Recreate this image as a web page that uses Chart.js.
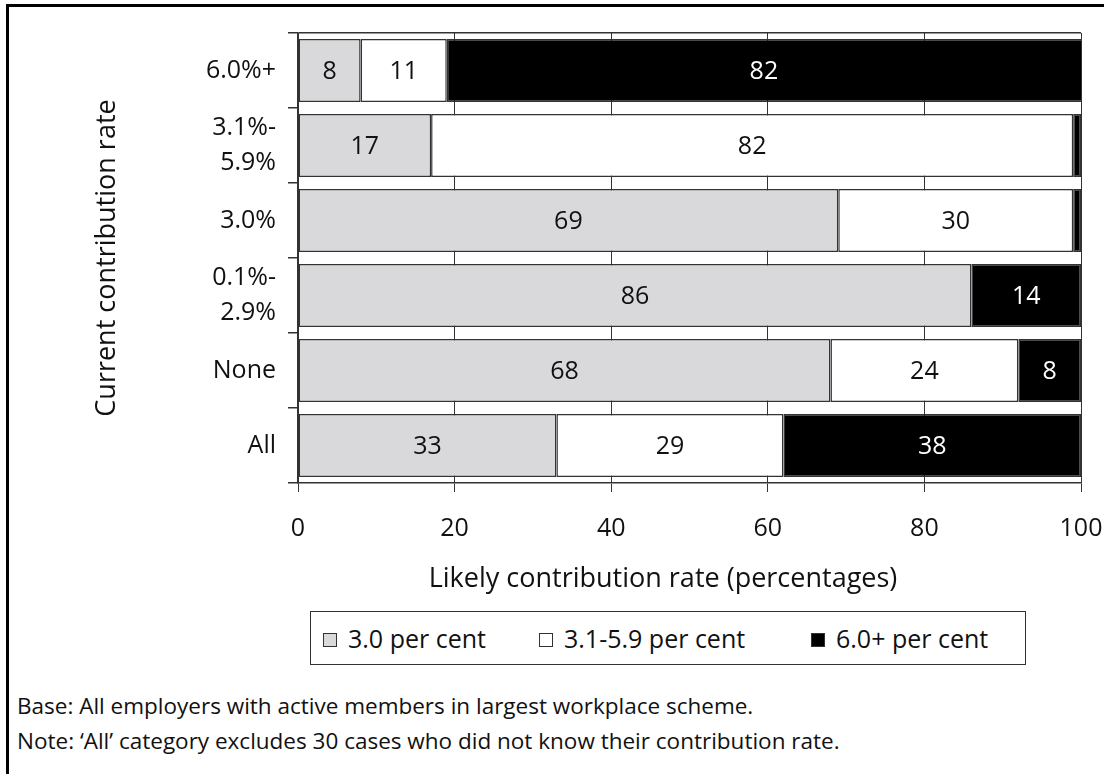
<!DOCTYPE html>
<html lang="en">
<head>
    <meta charset="UTF-8">
    <title>Likely contribution rate</title>
    <script src="https://cdn.jsdelivr.net/npm/chart.js"></script>
    <style>
        body { margin: 0; background: #fff; font-family: "Open Sans", sans-serif; color: #111; }
        #frame { position: absolute; left: 6px; top: 4px; width: 1200px; height: 900px; border-left: 3px solid #000; border-top: 3px solid #000; }
        #chartBox { position: absolute; left: 0; top: 0; width: 1104px; height: 560px; }
        #xTitle { position: absolute; left: 0; width: 1326px; top: 560px; text-align: center; font-size: 27px; line-height: 34px; }
        #legend { position: absolute; left: 310px; top: 611px; width: 714px; height: 52px; border: 1.5px solid #333; font-size: 25px; line-height: 52px; white-space: nowrap; }
        #legend .item { display: inline-block; }
        #legend .sw { display: inline-block; width: 12px; height: 12px; border: 1px solid #333; margin-right: 11px; vertical-align: 1px; }
        #notes { position: absolute; left: 17px; top: 688px; font-size: 22.5px; line-height: 35px; }
    </style>
</head>
<body>
    <div id="frame"></div>
    <div id="chartBox"><canvas id="myChart"></canvas></div>
    <div id="xTitle">Likely contribution rate (percentages)</div>
    <div id="legend"></div>
    <div id="notes">
        Base: All employers with active members in largest workplace scheme.<br>
        Note: ‘All’ category excludes 30 cases who did not know their contribution rate.
    </div>

    <script>
        // data
        const categories = ["6.0%+", ["3.1%-", "5.9%"], "3.0%", ["0.1%-", "2.9%"], "None", "All"];
        const rate30 = [8, 17, 69, 86, 68, 33];
        const rate31to59 = [11, 82, 30, 0, 24, 29];
        const rate60plus = [82, 1, 1, 14, 8, 38];
        const seriesNames = ["3.0 per cent", "3.1-5.9 per cent", "6.0+ per cent"];
        const xMin = 0, xMax = 100, xStep = 20;

        const fills = ["#d9d9db", "#ffffff", "#000000"];
        const textColors = ["#111", "#111", "#fff"];
        const lineColor = "#333";

        Chart.defaults.font.family = '"Open Sans", sans-serif';
        Chart.defaults.color = "#111";

        // value labels in the middle of each segment
        const barLabels = {
            id: "barLabels",
            afterDatasetsDraw(chart) {
                const ctx = chart.ctx;
                const area = chart.chartArea;
                ctx.save();
                ctx.font = '25px "Open Sans"';
                ctx.textAlign = "center";
                ctx.textBaseline = "middle";
                chart.data.datasets.forEach((ds, i) => {
                    chart.getDatasetMeta(i).data.forEach((bar, j) => {
                        const v = ds.data[j];
                        if (v < 5) return;
                        const right = Math.min(bar.x, area.right);
                        ctx.fillStyle = textColors[i];
                        ctx.fillText(String(v), (bar.base + right) / 2, bar.y + 1);
                    });
                });
                ctx.restore();
            }
        };

        const seriesData = [rate30, rate31to59, rate60plus];
        const datasets = seriesData.map((d, i) => ({
            label: seriesNames[i],
            data: d,
            backgroundColor: fills[i],
            borderColor: lineColor,
            borderWidth: 1.5,
            borderSkipped: false,
            categoryPercentage: 1,
            barPercentage: 0.84,
            clip: 0
        }));

        const ctx = document.getElementById("myChart").getContext("2d");
        const chart = new Chart(ctx, {
            type: "bar",
            data: { labels: categories, datasets: datasets },
            options: {
                indexAxis: "y",
                responsive: true,
                maintainAspectRatio: false,
                animation: false,
                layout: { padding: { top: 33, right: 23, left: 0, bottom: 0 } },
                plugins: {
                    legend: { display: false },
                    tooltip: { enabled: false }
                },
                scales: {
                    x: {
                        stacked: true,
                        min: xMin,
                        max: xMax,
                        ticks: { stepSize: xStep, padding: 22, font: { size: 25 }, maxRotation: 0 },
                        grid: { color: lineColor, lineWidth: 1, tickLength: 9 },
                        border: { color: lineColor, width: 1.5 },
                        afterFit(scale) {
                            scale.height = 77;
                            scale.paddingLeft = 0;
                            scale.paddingRight = 0;
                        }
                    },
                    y: {
                        stacked: true,
                        ticks: { padding: 12, font: { size: 25, lineHeight: 1.42 } },
                        grid: {
                            offset: true,
                            tickLength: 10,
                            color: c => c.index === 0 ? lineColor : "rgba(0,0,0,0)",
                            tickColor: lineColor,
                            lineWidth: 1.5
                        },
                        border: { color: lineColor, width: 1.5 },
                        title: {
                            display: true,
                            text: "Current contribution rate",
                            font: { size: 27 },
                            padding: { top: 91, bottom: 0 }
                        },
                        afterFit(scale) { scale.width = 298; }
                    }
                }
            },
            plugins: [barLabels]
        });

        // boxed legend under the chart
        const legend = document.getElementById("legend");
        const itemWidths = [216, 272, 200];
        seriesNames.forEach((name, i) => {
            const item = document.createElement("span");
            item.className = "item";
            item.style.width = itemWidths[i] + "px";
            if (i === 0) item.style.marginLeft = "12px";
            const sw = document.createElement("span");
            sw.className = "sw";
            sw.style.background = fills[i];
            item.appendChild(sw);
            item.appendChild(document.createTextNode(name));
            legend.appendChild(item);
        });
    </script>
</body>
</html>
